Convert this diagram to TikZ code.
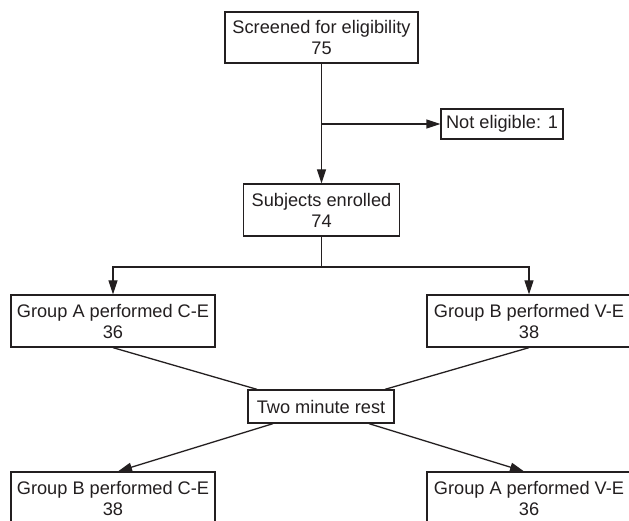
\documentclass[tikz,border=0pt]{standalone}
\usepackage{fontspec}
\setmainfont{Liberation Sans}
\usetikzlibrary{arrows.meta}
\definecolor{ink}{HTML}{231F20}
\begin{document}
\begin{tikzpicture}[x=1pt,y=-1pt,
  box/.style={draw=ink, line width=1.3pt, fill=white, inner sep=0pt, align=center,
              font=\fontsize{18.2}{21}\selectfont, text=ink},
  conn/.style={draw=ink, line width=1.3pt},
  arr/.style={conn, -{Triangle[length=14pt,width=9pt]}}]
\useasboundingbox (0,0) rectangle (629,521);
\clip (0,0) rectangle (629,521);
\node[box, minimum width=193pt, minimum height=51pt] (screen) at (321.5,37.5) {Screened for eligibility\\75};
\node[box, minimum width=122pt, minimum height=30pt] (noteligible) at (502,124) {Not eligible: 1};
\node[box, minimum width=156pt, minimum height=52pt] (enrolled) at (321.5,210) {Subjects enrolled\\74};
\node[box, minimum width=204pt, minimum height=52pt] (groupA) at (113,321) {Group A performed C-E\\36};
\node[box, minimum width=204pt, minimum height=52pt] (groupB) at (529,321) {Group B performed V-E\\38};
\node[box, minimum width=146pt, minimum height=33pt] (rest) at (321,406.5) {Two minute rest};
\node[box, minimum width=204pt, minimum height=52pt] (groupBCE) at (113,498) {Group B performed C-E\\38};
\node[box, minimum width=204pt, minimum height=52pt] (groupAVE) at (529,498) {Group A performed V-E\\36};
\coordinate (br) at (321.5,124);
\coordinate (split) at (321.5,267);
\draw[arr] (screen) -- (enrolled);
\draw[arr] (br) -- (noteligible);
\draw[conn] (enrolled) -- (split);
\draw[arr] (split) -| (groupA);
\draw[arr] (split) -| (groupB);
\draw[conn] (groupA.south) -- ([xshift=-64pt]rest.north);
\draw[conn] (groupB.south) -- ([xshift=64pt]rest.north);
\draw[arr] ([xshift=-48pt]rest.south) -- ([xshift=5pt]groupBCE.north);
\draw[arr] ([xshift=48pt]rest.south) -- ([xshift=-5pt]groupAVE.north);
\end{tikzpicture}
\end{document}
